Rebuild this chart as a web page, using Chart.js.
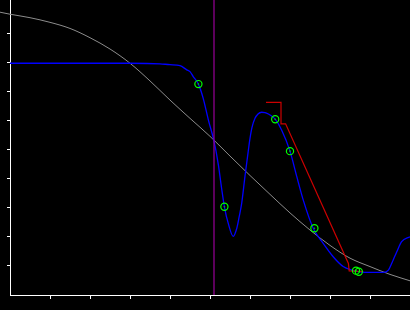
<!DOCTYPE html>
<html>
<head>
<meta charset="utf-8">
<script src="https://cdn.jsdelivr.net/npm/chart.js@4/dist/chart.umd.min.js"></script>
<style>
  html, body { margin: 0; padding: 0; background: #000; }
  #wrap { width: 410px; height: 310px; }
</style>
</head>
<body>
<div id="wrap"><canvas id="myChart" width="410" height="310"></canvas></div>
<script>
// tick positions (no labels shown)
let tickValues = [1, 2, 3, 4, 5, 6, 7, 8, 9]

// grey reference curve
let greyX = [-0.25, 0, 0.5, 1, 1.5, 2, 2.5, 3, 3.5, 4, 4.5, 5, 5.5, 6, 6.5, 7, 7.5, 8, 8.5, 9, 9.5, 10]
let greyY = [9.75, 9.68, 9.56, 9.40, 9.19, 8.87, 8.48, 7.99, 7.38, 6.72, 6.09, 5.47, 4.79, 4.12, 3.47, 2.83, 2.24, 1.71, 1.27, 0.98, 0.71, 0.49]

// blue fitted curve
let blueX = [0, 3, 3.75, 4, 4.25, 4.42, 4.5, 4.58, 4.71, 4.83, 4.96, 5.1, 5.21, 5.29, 5.36, 5.46, 5.58, 5.67, 5.73, 5.79, 5.875, 5.96, 6, 6.05, 6.125, 6.2, 6.29, 6.375, 6.46, 6.54, 6.63, 6.79, 7, 7.17, 7.33, 7.58, 7.83, 8.08, 8.33, 8.54, 8.75, 9, 9.33, 9.46, 9.58, 9.67, 9.79, 10]
let blueY = [7.99, 7.99, 7.97, 7.94, 7.91, 7.76, 7.70, 7.53, 7.27, 6.78, 6.03, 5.31, 4.48, 3.68, 3.04, 2.45, 2.02, 2.30, 2.70, 3.14, 4.10, 5.00, 5.40, 5.78, 6.09, 6.24, 6.30, 6.29, 6.24, 6.17, 6.06, 5.69, 4.96, 4.08, 3.28, 2.30, 1.78, 1.32, 0.98, 0.86, 0.80, 0.78, 0.78, 0.86, 1.21, 1.49, 1.84, 2.01]

// red step line
let redX = [6.4, 6.775, 6.775, 6.89, 8.46, 8.48, 8.83]
let redY = [6.64, 6.64, 5.90, 5.90, 1.09, 0.83, 0.81]

// green markers
let markX = [4.71, 5.36, 6.63, 7.0, 7.61, 8.65, 8.72]
let markY = [7.27, 3.04, 6.06, 4.96, 2.30, 0.84, 0.80]

// purple vertical marker
let cursorX = 5.1
let yMin = 0, yMax = 10.17

const pts = (xs, ys) => xs.map((x, i) => ({ x: x, y: ys[i] }))

const data = {
  datasets: [
    {
      label: 'marks',
      data: pts(markX, markY),
      showLine: false,
      pointStyle: 'circle',
      pointRadius: 3.6,
      pointBorderWidth: 1.2,
      pointBorderColor: '#00ff00',
      pointBackgroundColor: 'rgba(0,0,0,0)'
    },
    {
      label: 'marks center',
      data: pts(markX, markY),
      showLine: false,
      pointRadius: 0.8,
      pointBorderWidth: 0,
      pointBackgroundColor: '#00cc00'
    },
    {
      label: 'cursor',
      data: [{ x: cursorX, y: yMin }, { x: cursorX, y: yMax }],
      showLine: true,
      borderColor: '#990099',
      borderWidth: 1.2,
      pointRadius: 0
    },
    {
      label: 'red',
      data: pts(redX, redY),
      showLine: true,
      borderColor: '#cc0000',
      borderWidth: 1.2,
      pointRadius: 0
    },
    {
      label: 'blue',
      data: pts(blueX, blueY),
      showLine: true,
      cubicInterpolationMode: 'monotone',
      borderColor: '#0000ff',
      borderWidth: 1.3,
      pointRadius: 0
    },
    {
      label: 'grey',
      data: pts(greyX, greyY),
      showLine: true,
      cubicInterpolationMode: 'monotone',
      borderColor: '#8c8c8c',
      borderWidth: 1,
      pointRadius: 0,
      clip: { left: 12, top: 0, right: 0, bottom: 0 }
    }
  ]
}

const axisTicks = (axis) => { axis.ticks = tickValues.map(v => ({ value: v })) }

const config = {
  type: 'scatter',
  data: data,
  options: {
    responsive: false,
    animation: false,
    layout: { autoPadding: false, padding: { left: 7, right: 0, top: 0, bottom: 11 } },
    plugins: { legend: { display: false }, tooltip: { enabled: false } },
    scales: {
      x: {
        type: 'linear', min: 0, max: 10,
        afterBuildTicks: axisTicks,
        ticks: { display: false },
        grid: { drawOnChartArea: false, drawTicks: true, tickLength: 4, color: '#ffffff', lineWidth: 1 },
        border: { display: true, color: '#ffffff', width: 1 }
      },
      y: {
        type: 'linear', min: yMin, max: yMax,
        afterBuildTicks: axisTicks,
        ticks: { display: false },
        grid: { drawOnChartArea: false, drawTicks: true, tickLength: 3, color: '#ffffff', lineWidth: 1 },
        border: { display: true, color: '#ffffff', width: 1 }
      }
    }
  }
}

const myChart = new Chart(document.getElementById('myChart'), config)
</script>
</body>
</html>
